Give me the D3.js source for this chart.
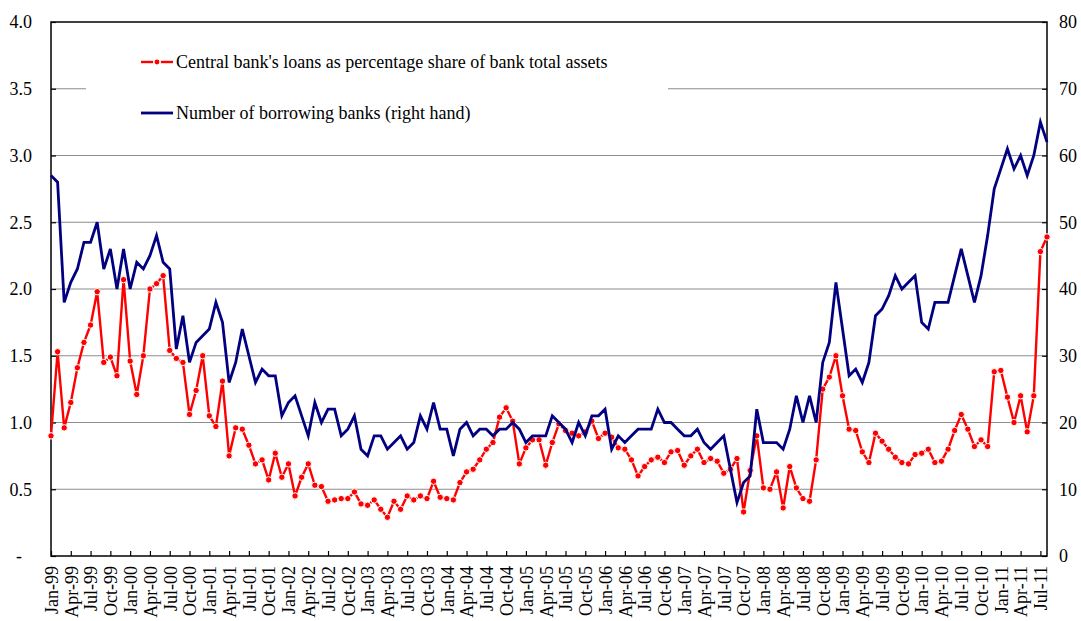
<!DOCTYPE html>
<html>
<head>
<meta charset="utf-8">
<script src="https://cdn.jsdelivr.net/npm/d3@7"></script>
<style>
  body { margin: 0; background: #fff; }
  svg text { font-family: 'Liberation Serif', 'Times New Roman', serif; font-size: 18px; fill: #000; }
</style>
</head>
<body>
<svg id="chart" width="1081" height="621"></svg>
<script>
// Monthly categories, Jan-99 .. Aug-11
const months = d3.utcMonth.range(new Date(Date.UTC(1999, 0, 1)), new Date(Date.UTC(2011, 8, 1)));

const tickLabels = [
  'Jan-99', 'Apr-99', 'Jul-99', 'Oct-99', 'Jan-00', 'Apr-00', 'Jul-00', 'Oct-00',
  'Jan-01', 'Apr-01', 'Jul-01', 'Oct-01', 'Jan-02', 'Apr-02', 'Jul-02', 'Oct-02',
  'Jan-03', 'Apr-03', 'Jul-03', 'Oct-03', 'Jan-04', 'Apr-04', 'Jul-04', 'Oct-04',
  'Jan-05', 'Apr-05', 'Jul-05', 'Oct-05', 'Jan-06', 'Apr-06', 'Jul-06', 'Oct-06',
  'Jan-07', 'Apr-07', 'Jul-07', 'Oct-07', 'Jan-08', 'Apr-08', 'Jul-08', 'Oct-08',
  'Jan-09', 'Apr-09', 'Jul-09', 'Oct-09', 'Jan-10', 'Apr-10', 'Jul-10', 'Oct-10',
  'Jan-11', 'Apr-11', 'Jul-11',
];

// Central bank's loans, % of bank total assets (left axis)
const loansShare = [
  0.90, 1.53, 0.96, 1.15, 1.41, 1.60, 1.73, 1.98, 1.45, 1.49, 1.35, 2.07,
  1.46, 1.21, 1.50, 2.00, 2.04, 2.10, 1.54, 1.48, 1.45, 1.06, 1.24, 1.50,
  1.05, 0.97, 1.31, 0.75, 0.96, 0.95, 0.83, 0.69, 0.72, 0.57, 0.77, 0.59,
  0.69, 0.45, 0.59, 0.69, 0.53, 0.52, 0.41, 0.42, 0.43, 0.43, 0.48, 0.39,
  0.38, 0.42, 0.35, 0.29, 0.41, 0.35, 0.45, 0.42, 0.45, 0.43, 0.56, 0.44,
  0.43, 0.42, 0.55, 0.63, 0.65, 0.72, 0.80, 0.85, 1.04, 1.11, 1.01, 0.69,
  0.81, 0.87, 0.87, 0.68, 0.85, 0.99, 0.94, 0.92, 0.90, 0.93, 1.01, 0.88,
  0.92, 0.89, 0.81, 0.80, 0.72, 0.60, 0.67, 0.72, 0.74, 0.70, 0.78, 0.79,
  0.68, 0.75, 0.80, 0.70, 0.73, 0.71, 0.62, 0.65, 0.73, 0.33, 0.64, 0.90,
  0.51, 0.50, 0.63, 0.36, 0.67, 0.51, 0.43, 0.41, 0.72, 1.25, 1.34, 1.50,
  1.20, 0.95, 0.94, 0.78, 0.70, 0.92, 0.86, 0.80, 0.74, 0.70, 0.69, 0.76,
  0.77, 0.80, 0.70, 0.71, 0.80, 0.94, 1.06, 0.95, 0.82, 0.87, 0.82, 1.38,
  1.39, 1.19, 1.00, 1.20, 0.93, 1.20, 2.28, 2.39,
];

// Number of borrowing banks (right axis)
const borrowingBanks = [
  57, 56, 38, 41, 43, 47, 47, 50, 43, 46, 40, 46,
  40, 44, 43, 45, 48, 44, 43, 31, 36, 29, 32, 33,
  34, 38, 35, 26, 29, 34, 30, 26, 28, 27, 27, 21,
  23, 24, 21, 18, 23, 20, 22, 22, 18, 19, 21, 16,
  15, 18, 18, 16, 17, 18, 16, 17, 21, 19, 23, 19,
  19, 15, 19, 20, 18, 19, 19, 18, 19, 19, 20, 19,
  17, 18, 18, 18, 21, 20, 19, 17, 20, 18, 21, 21,
  22, 16, 18, 17, 18, 19, 19, 19, 22, 20, 20, 19,
  18, 18, 19, 17, 16, 17, 18, 13, 8, 11, 12, 22,
  17, 17, 17, 16, 19, 24, 20, 24, 20, 29, 32, 41,
  34, 27, 28, 26, 29, 36, 37, 39, 42, 40, 41, 42,
  35, 34, 38, 38, 38, 42, 46, 42, 38, 42, 48, 55,
  58, 61, 58, 60, 57, 60, 65, 62,
];

const leftTicks = [0, 0.5, 1.0, 1.5, 2.0, 2.5, 3.0, 3.5, 4.0];
const rightTicks = [0, 10, 20, 30, 40, 50, 60, 70, 80];

const svg = d3.select('#chart');
const plot = { left: 51, right: 1047, top: 22, bottom: 556 };

// Scales
const x = d3.scalePoint().domain(months).range([plot.left, plot.right]);
const yLeft = d3.scaleLinear().domain([0, 4]).range([plot.bottom, plot.top]);
const yRight = d3.scaleLinear().domain([0, 80]).range([plot.bottom, plot.top]);

// Gridlines
svg.append('g')
  .selectAll('line')
  .data(leftTicks.filter(d => d > 0 && d < 4))
  .enter().append('line')
  .attr('x1', plot.left)
  .attr('x2', plot.right)
  .attr('y1', d => yLeft(d))
  .attr('y2', d => yLeft(d))
  .attr('stroke', '#8c8c8c')
  .attr('stroke-width', 1.2);

// Legend background hides the gridline behind it
svg.append('rect')
  .attr('x', 86)
  .attr('y', 38)
  .attr('width', 582)
  .attr('height', 92)
  .attr('fill', '#fff');

// Axes
const tickMonths = months.filter((d, i) => i % 3 === 0);

const xAxis = svg.append('g')
  .attr('transform', `translate(0, ${plot.bottom})`)
  .call(d3.axisBottom(x)
    .tickValues(tickMonths)
    .tickSizeInner(-5)
    .tickSizeOuter(0)
    .tickFormat((d, i) => tickLabels[i]));

xAxis.selectAll('text')
  .attr('transform', 'rotate(-90)')
  .attr('text-anchor', 'end')
  .attr('x', -10)
  .attr('y', 0)
  .attr('dy', '0.35em');

const leftAxis = svg.append('g')
  .attr('transform', `translate(${plot.left}, 0)`)
  .call(d3.axisLeft(yLeft)
    .tickValues(leftTicks)
    .tickSizeInner(-5)
    .tickSizeOuter(0)
    .tickPadding(19)
    .tickFormat(d => (d === 0 ? '-' : d.toFixed(1))));

leftAxis.selectAll('text')
  .filter(d => d === 0)
  .attr('dx', -10);

svg.append('g')
  .attr('transform', `translate(${plot.right}, 0)`)
  .call(d3.axisRight(yRight)
    .tickValues(rightTicks)
    .tickSizeInner(-5)
    .tickSizeOuter(0)
    .tickPadding(12));

svg.selectAll('.domain').remove();
svg.selectAll('.tick line').attr('stroke', '#000').attr('stroke-width', 1.2);
svg.selectAll('.tick text')
  .style('font-family', "'Liberation Serif', 'Times New Roman', serif")
  .style('font-size', '18px');

// Plot frame
svg.append('rect')
  .attr('x', plot.left)
  .attr('y', plot.top)
  .attr('width', plot.right - plot.left)
  .attr('height', plot.bottom - plot.top)
  .attr('fill', 'none')
  .attr('stroke', '#000')
  .attr('stroke-width', 1.5);

// Red series with markers
const redLine = d3.line()
  .x((d, i) => x(months[i]))
  .y(d => yLeft(d));

svg.append('path')
  .datum(loansShare)
  .attr('fill', 'none')
  .attr('stroke', '#ff0000')
  .attr('stroke-width', 2.4)
  .attr('d', redLine);

svg.append('g')
  .selectAll('circle')
  .data(loansShare)
  .enter().append('circle')
  .attr('cx', (d, i) => x(months[i]))
  .attr('cy', d => yLeft(d))
  .attr('r', 3.2)
  .attr('fill', '#ff0000')
  .attr('stroke', '#fff')
  .attr('stroke-width', 1);

// Blue series (right hand)
const blueLine = d3.line()
  .x((d, i) => x(months[i]))
  .y(d => yRight(d));

svg.append('path')
  .datum(borrowingBanks)
  .attr('fill', 'none')
  .attr('stroke', '#000080')
  .attr('stroke-width', 2.8)
  .attr('stroke-linejoin', 'miter')
  .attr('d', blueLine);

// Legend
const legend = svg.append('g');

legend.append('line')
  .attr('x1', 141).attr('x2', 173)
  .attr('y1', 62).attr('y2', 62)
  .attr('stroke', '#ff0000')
  .attr('stroke-width', 2.4);

legend.append('circle')
  .attr('cx', 157).attr('cy', 62)
  .attr('r', 3.2)
  .attr('fill', '#ff0000')
  .attr('stroke', '#fff')
  .attr('stroke-width', 1.5);

legend.append('text')
  .attr('x', 176).attr('y', 62)
  .attr('dy', '0.35em')
  .text("Central bank's loans as percentage share of bank total assets");

legend.append('line')
  .attr('x1', 141).attr('x2', 173)
  .attr('y1', 113).attr('y2', 113)
  .attr('stroke', '#000080')
  .attr('stroke-width', 2.8);

legend.append('text')
  .attr('x', 176).attr('y', 113)
  .attr('dy', '0.35em')
  .text('Number of borrowing banks (right hand)');
</script>
</body>
</html>
